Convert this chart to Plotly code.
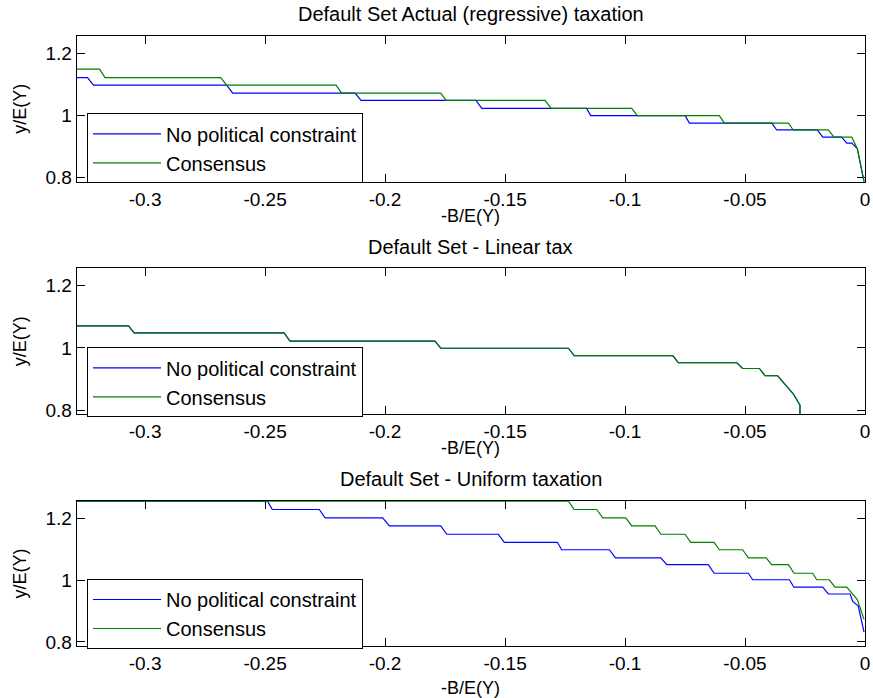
import plotly.graph_objects as go

# ---------------- data ----------------
titles = ["Default Set Actual (regressive) taxation",
          "Default Set - Linear tax",
          "Default Set - Uniform taxation"]
series_names = ["No political constraint", "Consensus"]
x_label = "-B/E(Y)"
y_label = "y/E(Y)"
x_ticks = [-0.3, -0.25, -0.2, -0.15, -0.1, -0.05, 0]
x_tick_labels = ["-0.3", "-0.25", "-0.2", "-0.15", "-0.1", "-0.05", "0"]
y_ticks = [0.8, 1.0, 1.2]
y_tick_labels = ["0.8", "1", "1.2"]

# panel 1: actual (regressive) taxation
p1_blue_x = [-0.3285, -0.3240, -0.3215, -0.2660, -0.2635, -0.2125, -0.2100, -0.1621, -0.1597,
             -0.1160, -0.1143, -0.0749, -0.0732, -0.0388, -0.0368, -0.0199, -0.0176, -0.0097,
             -0.0076, -0.0055, -0.0032, -0.0004]
p1_blue_y = [1.121, 1.121, 1.097, 1.097, 1.071, 1.071, 1.048, 1.048, 1.022,
             1.022, 0.999, 0.999, 0.975, 0.975, 0.953, 0.953, 0.930, 0.930,
             0.911, 0.911, 0.893, 0.787]
p1_green_x = [-0.3285, -0.3190, -0.3167, -0.2685, -0.2660, -0.2204, -0.2181, -0.1768, -0.1746,
              -0.1333, -0.1308, -0.0972, -0.0949, -0.0607, -0.0586, -0.0319, -0.0299, -0.0153,
              -0.0129, -0.0055, -0.0032, -0.0004]
p1_green_y = [1.148, 1.148, 1.121, 1.121, 1.097, 1.097, 1.071, 1.071, 1.048,
              1.048, 1.022, 1.022, 0.999, 0.999, 0.975, 0.975, 0.953, 0.953,
              0.930, 0.930, 0.893, 0.787]

# panel 2: linear tax (both series coincide)
p2_blue_x = [-0.3285, -0.3069, -0.3046, -0.2421, -0.2396, -0.1792, -0.1768, -0.1236, -0.1212,
             -0.0801, -0.0778, -0.0535, -0.0510, -0.0440, -0.0417, -0.0365, -0.0299, -0.0271, -0.0271]
p2_blue_y = [1.071, 1.071, 1.048, 1.048, 1.022, 1.022, 0.999, 0.999, 0.975,
             0.975, 0.953, 0.953, 0.934, 0.934, 0.911, 0.911, 0.853, 0.816, 0.787]
p2_green_x = list(p2_blue_x)
p2_green_y = list(p2_blue_y)

# panel 3: uniform taxation
p3_blue_x = [-0.3285, -0.2490, -0.2470, -0.2274, -0.2250, -0.2010, -0.1982, -0.1768, -0.1743,
             -0.1528, -0.1503, -0.1282, -0.1264, -0.1065, -0.1040, -0.0851, -0.0826, -0.0653,
             -0.0629, -0.0486, -0.0468, -0.0315, -0.0296, -0.0176, -0.0153, -0.0062, -0.0051,
             -0.0028, -0.0004]
p3_blue_y = [1.255, 1.255, 1.228, 1.228, 1.201, 1.201, 1.175, 1.175, 1.148,
             1.148, 1.122, 1.122, 1.098, 1.098, 1.072, 1.072, 1.050, 1.050,
             1.022, 1.022, 1.001, 1.001, 0.977, 0.977, 0.955, 0.955, 0.931,
             0.916, 0.832]
p3_green_x = [-0.3285, -0.1236, -0.1212, -0.1118, -0.1093, -0.0997, -0.0972, -0.0875, -0.0851,
              -0.0750, -0.0726, -0.0629, -0.0607, -0.0510, -0.0486, -0.0412, -0.0389, -0.0319,
              -0.0296, -0.0218, -0.0201, -0.0149, -0.0125, -0.0076, -0.0032, -0.0004]
p3_green_y = [1.255, 1.255, 1.228, 1.228, 1.201, 1.201, 1.175, 1.175, 1.148,
              1.148, 1.122, 1.122, 1.098, 1.098, 1.072, 1.072, 1.050, 1.050,
              1.022, 1.022, 1.001, 1.001, 0.977, 0.977, 0.937, 0.873]

panels = [
    (p1_blue_x, p1_blue_y, p1_green_x, p1_green_y),
    (p2_blue_x, p2_blue_y, p2_green_x, p2_green_y),
    (p3_blue_x, p3_blue_y, p3_green_x, p3_green_y),
]

# ---------------- layout constants ----------------
W, H = 873, 698
FONT = "Liberation Sans, Arial, sans-serif"
BLUE = "#0000ff"
GREEN = "#008000"
x_range = [-0.3285, 0]
y_range = [0.787, 1.2555]
x_dom = [76.7 / W, 865 / W]
panel_px = [(35.7, 181.7), (268.3, 414.3), (501, 646)]  # (top, bottom) in pixels
title_py = [13.5, 247, 479]
xlabel_py = [216, 448, 688]
legend_top_py = [113.3, 347.3, 579]

fig = go.Figure()
layout = dict(
    width=W, height=H,
    margin=dict(l=0, r=0, t=0, b=0, autoexpand=False),
    paper_bgcolor="white", plot_bgcolor="white",
    font=dict(family=FONT, size=19, color="black"),
    annotations=[],
)

for i, (bx, by, gx, gy) in enumerate(panels):
    n = "" if i == 0 else str(i + 1)
    xa, ya = "x" + n, "y" + n
    leg = "legend" + n
    fig.add_trace(go.Scatter(x=bx, y=by, mode="lines", name=series_names[0],
                             line=dict(color=BLUE, width=1.2), xaxis=xa, yaxis=ya,
                             legend=leg, showlegend=True))
    fig.add_trace(go.Scatter(x=gx, y=gy, mode="lines", name=series_names[1],
                             line=dict(color=GREEN, width=1.2), xaxis=xa, yaxis=ya,
                             legend=leg, showlegend=True))
    top, bot = panel_px[i]
    layout["xaxis" + n] = dict(
        domain=x_dom, anchor=ya, range=x_range, tickmode="array",
        tickvals=x_ticks, ticktext=x_tick_labels, ticks="inside", ticklen=8,
        tickcolor="black", showline=True, linecolor="black", linewidth=1,
        mirror="allticks", showgrid=False, zeroline=False, automargin=False,
        tickfont=dict(size=19), ticklabeloverflow="allow",
        layer="below traces",
    )
    layout["yaxis" + n] = dict(
        domain=[1 - bot / H, 1 - top / H], anchor=xa, range=y_range,
        tickmode="array", tickvals=y_ticks, ticktext=y_tick_labels,
        ticks="inside", ticklen=8, tickcolor="black", showline=True,
        linecolor="black", linewidth=1, mirror="allticks", showgrid=False,
        zeroline=False, tickfont=dict(size=19), automargin=False,
        title=dict(text=y_label, font=dict(size=18), standoff=14),
        layer="below traces",
    )
    layout[leg] = dict(
        x=87 / W, y=1 - legend_top_py[i] / H, xanchor="left", yanchor="top",
        bgcolor="white", bordercolor="black", borderwidth=1,
        font=dict(family=FONT, size=20), itemwidth=68,
        tracegroupgap=0,
    )
    layout["annotations"].append(dict(
        text=titles[i], xref="paper", yref="paper", x=(x_dom[0] + x_dom[1]) / 2,
        y=1 - title_py[i] / H, xanchor="center", yanchor="middle",
        showarrow=False, font=dict(size=20),
    ))
    layout["annotations"].append(dict(
        text=x_label, xref="paper", yref="paper", x=(x_dom[0] + x_dom[1]) / 2,
        y=1 - xlabel_py[i] / H, xanchor="center", yanchor="middle",
        showarrow=False, font=dict(size=18),
    ))

fig.update_layout(**layout)
fig.write_html("out.html",
               config={"displayModeBar": False},
               post_script="document.body.style.margin='0px';document.body.style.padding='0px';")
